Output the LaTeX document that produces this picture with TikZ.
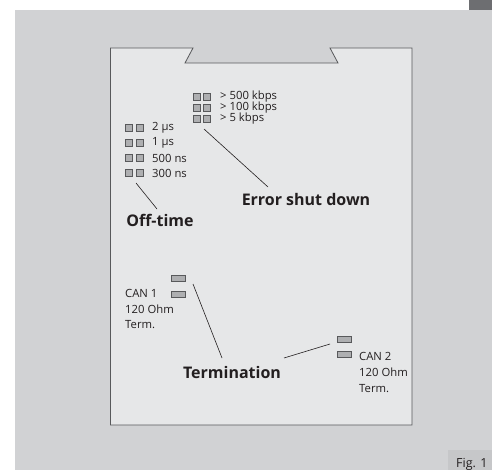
\documentclass[tikz,border=0pt]{standalone}
\usepackage{fontspec}
\setmainfont{Open Sans}
\definecolor{panel}{HTML}{D1D2D4}
\definecolor{inner}{HTML}{E6E7E8}
\definecolor{edge}{HTML}{58595B}
\definecolor{ledfill}{HTML}{AEAFB1}
\definecolor{tab}{HTML}{6D6E71}
\definecolor{figbox}{HTML}{C6C7C9}
\definecolor{ink}{HTML}{231F20}
\tikzset{
  led/.style={draw=edge, fill=ledfill, line width=0.7pt, minimum width=7.5pt, minimum height=7.5pt, inner sep=0pt},
  ledwide/.style={draw=edge, fill=ledfill, line width=0.7pt, minimum width=14pt, minimum height=6pt, inner sep=0pt},
  small/.style={font=\fontsize{11.3}{13}\selectfont, text=ink, inner sep=0pt, anchor=west},
  title/.style={font=\fontsize{16}{19}\selectfont\bfseries, text=ink, inner sep=0pt},
  leader/.style={draw=ink, line width=0.6pt}
}
\begin{document}
\begin{tikzpicture}[x=1pt,y=-1pt]
\useasboundingbox (0,0) rectangle (492,470);
\fill[white] (0,0) rectangle (492,470);
\fill[panel] (15,10) rectangle (492,470);
\fill[tab] (469,0) rectangle (492,10);
\fill[figbox] (448,450) rectangle (492,470);
\node[font=\fontsize{12.5}{14}\selectfont, text=ink, anchor=base west, inner sep=0pt] (fig) at (456,467) {Fig. 1};
% inner panel
\draw[edge, fill=inner, line width=0.8pt] (110.5,48) -- (193,48) -- (185,63) -- (338,63) -- (330,48) -- (412,48) -- (412,425) -- (110.5,425) -- cycle;

% Error shut down
\foreach \i/\y/\t in {1/97/{> 500 kbps},2/108/{> 100 kbps},3/119/{> 5 kbps}}{
  \node[led] (ea\i) at (197,\y) {};
  \node[led] (eb\i) at (207,\y) {};
  \node[small] (et\i) at (220,\y) {\t};
}
\node[title] (err) at (306,200) {Error shut down};
\coordinate (e1) at (204,129);
\coordinate (e2) at (268,187);
\draw[leader] (e1) -- (e2);

% Off-time
\foreach \i/\y/\t in {1/128/{2 µs},2/143/{1 µs},3/158/{500 ns},4/173/{300 ns}}{
  \node[led] (oa\i) at (129,\y) {};
  \node[led] (ob\i) at (140,\y) {};
  \node[small] (ot\i) at (152,\y) {\t};
}
\node[title] (off) at (160,220) {Off-time};
\coordinate (o1) at (136,183);
\coordinate (o2) at (157,209);
\draw[leader] (o1) -- (o2);

% CAN 1
\node[ledwide] (c1a) at (178.5,278.5) {};
\node[ledwide] (c1b) at (178.5,294.5) {};
\node[small] (c1t1) at (125,293) {CAN 1};
\node[small] (c1t2) at (125,309) {120 Ohm};
\node[small] (c1t3) at (125,324.5) {Term.};

% CAN 2
\node[ledwide] (c2a) at (344.5,339) {};
\node[ledwide] (c2b) at (344.5,354.5) {};
\node[small] (c2t1) at (359,356) {CAN 2};
\node[small] (c2t2) at (359,372) {120 Ohm};
\node[small] (c2t3) at (359,389) {Term.};

\node[title] (term) at (232,372) {Termination};
\coordinate (t1) at (193,284);
\coordinate (t2) at (222,358);
\coordinate (t3) at (284,358);
\coordinate (t4) at (330,344);
\draw[leader] (t1) -- (t2);
\draw[leader] (t3) -- (t4);
\end{tikzpicture}
\end{document}
